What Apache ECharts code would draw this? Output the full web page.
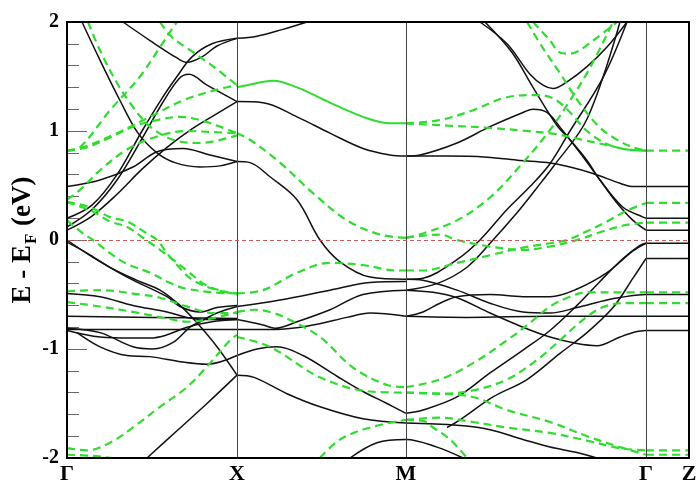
<!DOCTYPE html>
<html>
<head>
<meta charset="utf-8">
<script src="https://cdn.jsdelivr.net/npm/echarts@6/dist/echarts.min.js"></script>
<style>
  html, body { margin: 0; padding: 0; background: #fff; }
  #main { width: 698px; height: 490px; }
</style>
</head>
<body>
<div id="main"></div>
<script>
// k-path positions and labels
var kTicks = [0, 170, 339, 579, 622];
var kNames = ['Γ', 'X', 'M', 'Γ', 'Z'];
var yTicks = [-2, -1, 0, 1, 2];

// black bands (solid), [k, E]
var blackBands = [
  // Γ - X upper
  [[15,2.0],[33,1.65],[53,1.28],[71,0.98],[90,0.80],[108,0.71],[133,0.67],[153,0.68],[170,0.72]],
  [[0,0.49],[33,0.55],[66,0.67],[90,0.81],[116,0.84],[143,0.78],[170,0.72]],
  [[0,0.2],[25,0.32],[50,0.6],[75,1.0],[95,1.3],[110,1.5],[125,1.68],[145,1.8],[170,1.85]],
  [[0,0.12],[25,0.28],[50,0.55],[75,0.93],[95,1.25],[112,1.48],[122,1.52],[140,1.42],[170,1.27]],
  [[0,0.09],[25,0.22],[50,0.42],[75,0.65],[100,0.85],[125,1.02],[150,1.16],[170,1.27]],
  [[56,2.0],[83,1.83],[110,1.67],[120,1.63],[135,1.68],[150,1.78],[170,1.85]],
  // Γ - X lower
  [[0,0],[26,-0.16],[60,-0.34],[100,-0.52],[113,-0.61],[133,-0.66],[150,-0.62],[170,-0.60]],
  [[0,-0.02],[20,-0.12],[45,-0.26],[70,-0.37],[93,-0.46],[113,-0.6],[130,-0.76],[150,-0.98],[170,-1.24]],
  [[0,-0.49],[33,-0.52],[66,-0.6],[100,-0.66],[120,-0.71],[140,-0.73],[170,-0.73]],
  [[0,-0.70],[85,-0.71],[170,-0.72]],
  [[0,-0.82],[85,-0.82],[170,-0.82]],
  [[0,-0.83],[33,-0.89],[66,-0.9],[83,-0.9],[100,-0.87],[120,-0.80],[145,-0.75],[170,-0.73]],
  [[0,-0.81],[33,-0.85],[66,-0.98],[86,-1.0],[106,-0.94],[123,-0.80],[133,-0.75],[150,-0.67],[170,-0.61]],
  [[10,-0.85],[33,-0.98],[60,-1.06],[83,-1.07],[116,-1.12],[140,-1.14],[170,-1.06]],
  [[80,-2.0],[110,-1.75],[140,-1.5],[170,-1.24]],
  // X - M
  [[170,1.85],[190,1.87],[215,1.93],[240,2.0]],
  [[170,1.27],[196,1.26],[230,1.13],[263,0.98],[296,0.84],[323,0.78],[339,0.77]],
  [[170,0.72],[183,0.71],[203,0.58],[230,0.37],[253,0.0],[273,-0.2],[303,-0.34],[339,-0.36]],
  [[170,-0.61],[213,-0.55],[263,-0.46],[303,-0.39],[339,-0.38]],
  [[170,-0.73],[196,-0.78],[208,-0.81],[230,-0.75],[263,-0.64],[296,-0.50],[339,-0.46]],
  [[170,-0.82],[208,-0.82],[246,-0.78],[280,-0.71],[303,-0.67],[339,-0.70]],
  [[170,-1.06],[190,-1.0],[210,-0.98],[236,-1.06],[270,-1.25],[296,-1.39],[320,-1.5],[339,-1.59]],
  [[170,-1.24],[187,-1.26],[220,-1.41],[253,-1.53],[296,-1.64],[339,-1.68]],
  [[283,-2.0],[310,-1.86],[339,-1.83],[370,-1.90],[396,-2.0]],
  // M - Γ upper
  [[339,0.77],[380,0.77],[420,0.76],[453,0.73],[480,0.71],[503,0.67],[526,0.61],[553,0.52],[566,0.49],[579,0.49]],
  [[339,0.77],[353,0.78],[390,0.89],[423,1.04],[456,1.17],[466,1.20],[480,1.17],[496,1.0],[513,0.80],[533,0.55],[550,0.34],[566,0.18],[579,0.09]],
  [[413,2.0],[440,1.80],[463,1.52],[476,1.42],[486,1.39],[500,1.45],[520,1.59],[540,1.77],[560,2.0]],
  [[418,2.0],[445,1.72],[466,1.40],[490,1.05],[503,0.92],[520,0.73],[533,0.55],[556,0.30],[576,0.21],[579,0.20]],
  [[339,-0.36],[356,-0.35],[390,-0.18],[413,0],[440,0.28],[463,0.49],[483,0.70],[503,1.0],[536,1.49],[560,2.0]],
  [[339,-0.46],[370,-0.40],[400,-0.25],[426,0],[450,0.25],[470,0.48],[486,0.67],[520,1.11],[553,2.0]],
  // M - Γ lower
  [[339,-1.59],[356,-1.56],[390,-1.44],[423,-1.22],[456,-1.01],[483,-0.83],[510,-0.6],[533,-0.38],[556,-0.17],[573,-0.05],[579,-0.03]],
  [[339,-0.36],[356,-0.37],[390,-0.46],[423,-0.58],[456,-0.66],[483,-0.67],[510,-0.62],[540,-0.55],[566,-0.51],[579,-0.50]],
  [[339,-0.46],[366,-0.48],[390,-0.53],[423,-0.67],[456,-0.80],[483,-0.89],[510,-0.95],[530,-0.97],[553,-0.89],[570,-0.84],[579,-0.83]],
  [[339,-0.70],[356,-0.66],[373,-0.58],[390,-0.52],[423,-0.50],[456,-0.52],[483,-0.52],[510,-0.45],[540,-0.3],[566,-0.1],[579,-0.03]],
  [[339,-0.70],[400,-0.71],[480,-0.70],[579,-0.70]],
  [[339,-1.68],[390,-1.70],[423,-1.74],[456,-1.83],[483,-1.90],[510,-1.95],[530,-2.0]],
  [[380,-1.72],[393,-1.65],[426,-1.44],[460,-1.28],[493,-1.04],[520,-0.85],[546,-0.62],[566,-0.35],[579,-0.17]],
  // Γ - Z flat
  [[579,0.49],[622,0.49]], [[579,0.20],[622,0.20]], [[579,0.09],[622,0.09]],
  [[579,-0.03],[622,-0.03]], [[579,-0.17],[622,-0.17]], [[579,-0.50],[622,-0.50]],
  [[579,-0.70],[622,-0.70]], [[579,-0.83],[622,-0.83]]
];

// green bands (dashed), [k, E]
var greenBands = [
  // Γ - X upper
  [[21,2.0],[33,1.74],[50,1.44],[66,1.22],[83,1.04],[106,0.92],[133,0.89],[170,0.96]],
  [[0,0.82],[13,0.85],[43,1.19],[73,1.5],[93,1.77],[106,1.95],[110,2.0]],
  [[93,2.0],[105,1.86],[125,1.73],[148,1.58],[170,1.42]],
  [[0,0.82],[20,0.85],[43,0.94],[66,1.04],[90,1.10],[113,1.13],[133,1.10],[153,1.04],[170,0.98]],
  [[0,0.82],[16,0.85],[50,0.98],[83,1.13],[116,1.28],[150,1.38],[170,1.42]],
  [[0,0.37],[13,0.46],[33,0.64],[60,0.83],[90,0.95],[120,1.0],[145,0.99],[170,0.98]],
  // Γ - X lower
  [[0,0.18],[16,0.06],[26,0],[43,-0.12],[60,-0.22],[83,-0.3],[100,-0.38],[116,-0.44],[146,-0.48],[170,-0.49]],
  [[0,0.35],[16,0.32],[26,0.29],[43,0.21],[60,0.17],[80,0.06],[90,0],[100,-0.12],[113,-0.26],[126,-0.37],[150,-0.46],[170,-0.49]],
  [[0,0.35],[26,0.26],[43,0.17],[60,0.12],[76,0.02],[93,-0.09],[106,-0.18],[120,-0.28],[140,-0.42],[170,-0.50]],
  [[0,-0.47],[33,-0.46],[73,-0.5],[93,-0.53],[120,-0.61],[146,-0.67],[170,-0.67]],
  [[0,-0.57],[33,-0.61],[66,-0.66],[100,-0.72],[120,-0.75],[145,-0.72],[170,-0.66]],
  [[0,-1.91],[20,-1.93],[43,-1.86],[66,-1.72],[93,-1.53],[120,-1.35],[143,-1.13],[163,-0.92],[170,-0.87]],
  [[0,-1.97],[25,-1.98],[45,-2.0]],
  // X - M
  [[170,0.98],[183,0.92],[213,0.71],[246,0.43],[280,0.18],[313,0.05],[339,0.02]],
  [[170,-0.49],[196,-0.46],[230,-0.30],[263,-0.21],[296,-0.23],[330,-0.28],[339,-0.28]],
  [[170,-0.66],[187,-0.64],[203,-0.66],[220,-0.72],[253,-0.89],[286,-1.17],[320,-1.33],[339,-1.35]],
  [[170,-0.89],[203,-0.98],[253,-1.26],[303,-1.39],[339,-1.40]],
  [[253,-2.0],[273,-1.83],[303,-1.72],[339,-1.65]],
  // M - Γ upper
  [[339,1.07],[380,1.05],[420,1.03],[460,1.0],[490,0.97],[515,0.92],[540,0.87],[560,0.83],[579,0.82]],
  [[339,1.07],[373,1.10],[406,1.19],[440,1.31],[470,1.33],[486,1.30],[500,1.2],[520,1.0],[540,0.88],[560,0.83],[579,0.82]],
  [[466,2.0],[483,1.83],[493,1.72],[503,1.71],[526,1.83],[550,2.0]],
  [[460,2.0],[476,1.76],[493,1.53],[513,1.25],[533,1.03],[550,0.92],[566,0.85],[579,0.82]],
  [[339,0.02],[356,0.06],[390,0.18],[423,0.39],[456,0.71],[483,1.01],[503,1.28],[523,1.58],[546,2.0]],
  // M - Γ lower
  [[339,-0.28],[356,-0.28],[390,-0.21],[423,-0.14],[456,-0.07],[483,-0.03],[500,0.0],[520,0.08],[540,0.17],[560,0.27],[579,0.34]],
  [[339,0.02],[356,0.04],[373,0.05],[390,0.0],[423,-0.06],[456,-0.09],[483,-0.06],[510,0.0],[536,0.08],[560,0.14],[579,0.16]],
  [[339,-1.35],[373,-1.28],[406,-1.13],[440,-0.92],[463,-0.76],[483,-0.61],[503,-0.52],[520,-0.48],[553,-0.48],[579,-0.48]],
  [[339,-1.40],[373,-1.41],[406,-1.38],[440,-1.28],[470,-1.1],[493,-0.92],[515,-0.74],[535,-0.62],[556,-0.58],[579,-0.58]],
  [[339,-1.65],[373,-1.63],[406,-1.67],[440,-1.72],[483,-1.77],[520,-1.84],[553,-1.91],[579,-1.93]],
  [[339,-1.65],[356,-1.66],[366,-1.72],[383,-1.83],[400,-2.0]],
  [[339,-1.40],[373,-1.41],[406,-1.44],[440,-1.56],[483,-1.67],[520,-1.80],[553,-1.90],[579,-1.97]],
  // Γ - Z flat
  [[579,0.82],[622,0.82]], [[579,0.34],[622,0.34]], [[579,0.16],[622,0.16]],
  [[579,-0.48],[622,-0.48]], [[579,-0.58],[622,-0.58]],
  [[579,-1.93],[622,-1.93]], [[579,-1.97],[622,-1.97]]
];

// the doubly degenerate green band between X and M looks solid
var greenSolid = [[170,1.40],[180,1.42],[206,1.46],[230,1.40],[263,1.26],[296,1.13],[323,1.07],[339,1.07]];

var serif = '"Liberation Serif", "DejaVu Serif", serif';
var series = [];

// vertical lines at the symmetry points and the Fermi level
series.push({
  type: 'line', data: [], silent: true,
  markLine: {
    silent: true, symbol: 'none', animation: false,
    label: { show: false },
    data: [
      { xAxis: kTicks[1], lineStyle: { color: '#444', width: 1, type: 'solid' } },
      { xAxis: kTicks[2], lineStyle: { color: '#444', width: 1, type: 'solid' } },
      { xAxis: kTicks[3], lineStyle: { color: '#444', width: 1, type: 'solid' } },
      { yAxis: 0, lineStyle: { color: '#c85a5a', width: 1, type: [4, 3] } }
    ]
  }
});

blackBands.forEach(function (b) {
  series.push({
    type: 'line', data: b, showSymbol: false, smooth: 0.35, silent: true,
    lineStyle: { color: '#111', width: 1.5 }
  });
});
greenBands.forEach(function (b) {
  series.push({
    type: 'line', data: b, showSymbol: false, smooth: 0.35, silent: true,
    lineStyle: { color: '#2fdc2f', width: 2.2, type: [8, 5] }
  });
});
series.push({
  type: 'line', data: greenSolid, showSymbol: false, smooth: 0.35, silent: true,
  lineStyle: { color: '#2fdc2f', width: 2 }
});

var chart = echarts.init(document.getElementById('main'), null, { renderer: 'canvas' });
chart.setOption({
  animation: false,
  backgroundColor: '#fff',
  grid: { left: 67, right: 9, top: 22, bottom: 32, containLabel: false, outerBoundsMode: 'none' },
  xAxis: {
    type: 'value', min: 0, max: 622,
    axisLine: { show: true, onZero: false, lineStyle: { color: '#000', width: 2 } },
    axisTick: { show: false },
    splitLine: { show: false },
    axisLabel: {
      customValues: kTicks,
      formatter: function (v) { return kNames[kTicks.indexOf(v)]; },
      color: '#000', fontFamily: serif, fontWeight: 'bold', fontSize: 22, margin: 5
    }
  },
  yAxis: {
    type: 'value', min: -2, max: 2, interval: 1,
    name: '{a|E - E}{s|F}{a| (eV)}',
    nameLocation: 'middle', nameGap: 27, nameRotate: 90, nameMoveOverlap: false,
    nameTextStyle: {
      rich: {
        a: { fontFamily: serif, fontWeight: 'bold', fontSize: 27, color: '#000' },
        s: { fontFamily: serif, fontWeight: 'bold', fontSize: 17, color: '#000', verticalAlign: 'bottom', padding: [16, 1, 0, 1] }
      }
    },
    axisLine: { show: true, lineStyle: { color: '#000', width: 2 } },
    axisTick: { show: true, inside: true, length: 20, lineStyle: { color: '#666', width: 1 } },
    minorTick: { show: true, splitNumber: 5, length: 12, lineStyle: { color: '#666', width: 1 } },
    splitLine: { show: false },
    axisLabel: {
      customValues: yTicks,
      color: '#000', fontFamily: serif, fontWeight: 'bold', fontSize: 20, margin: 8
    }
  },
  series: series
});
// frame on the top and right
chart.setOption({
  graphic: [{
    type: 'rect', silent: true, z: 100,
    shape: { x: 67, y: 22, width: 622, height: 436 },
    style: { fill: 'none', stroke: '#000', lineWidth: 2 }
  }]
});
</script>
</body>
</html>
